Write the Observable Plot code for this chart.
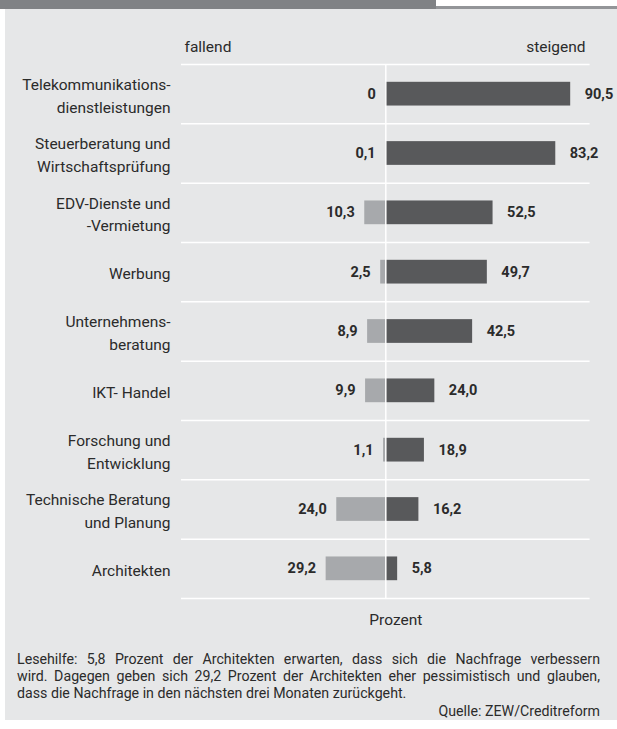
<!DOCTYPE html>
<html>
<head>
<meta charset="utf-8">
<script src="https://cdn.jsdelivr.net/npm/d3@7"></script>
<script src="https://cdn.jsdelivr.net/npm/@observablehq/plot@0.6"></script>
<style>
  html, body { margin: 0; padding: 0; background: #ffffff; }
  #page { position: relative; width: 617px; height: 729px; overflow: hidden;
          font-family: Roboto, "Noto Sans", sans-serif; color: #2b2b2b; }
  #headbar { position: absolute; left: 0; top: 0; width: 436px; height: 9px; background: #808285; }
  #headline { position: absolute; left: 436px; top: 6px; width: 181px; height: 3px; background: #939598; }
  #panel { position: absolute; left: 5px; top: 9px; width: 612px; height: 711px; background: #e6e7e8; }
  #chart { position: absolute; left: 0; top: 9px; }
  #note { position: absolute; left: 17px; top: 651px; width: 583px; font-size: 14.2px; line-height: 17px; }
  #note .j { text-align: justify; text-align-last: justify; white-space: nowrap; }
  #source { position: absolute; right: 17px; top: 703px; font-size: 14.2px; line-height: 17px; }
</style>
</head>
<body>
<div id="page">
  <div id="headbar"></div>
  <div id="headline"></div>
  <div id="panel"></div>
  <div id="chart"></div>
  <div id="note">
    <div class="j">Lesehilfe: 5,8 Prozent der Architekten erwarten, dass sich die Nachfrage verbessern</div>
    <div class="j">wird. Dagegen geben sich 29,2 Prozent der Architekten eher pessimistisch und glauben,</div>
    <div>dass die Nachfrage in den nächsten drei Monaten zurückgeht.</div>
  </div>
  <div id="source">Quelle: ZEW/Creditreform</div>
</div>
<script>
// Branchen (Zeilen von oben nach unten)
const branchen = [
  "Telekommunikations-\ndienstleistungen",
  "Steuerberatung und\nWirtschaftsprüfung",
  "EDV-Dienste und\n-Vermietung",
  "Werbung",
  "Unternehmens-\nberatung",
  "IKT- Handel",
  "Forschung und\nEntwicklung",
  "Technische Beratung\nund Planung",
  "Architekten"
];
// Anteil der Unternehmen mit fallender Nachfrage, in Prozent
const fallend = [0, 0.1, 10.3, 2.5, 8.9, 9.9, 1.1, 24.0, 29.2];
// Anteil der Unternehmen mit steigender Nachfrage, in Prozent
const steigend = [90.5, 83.2, 52.5, 49.7, 42.5, 24.0, 18.9, 16.2, 5.8];

const rows = branchen.map((name, i) => ({name, i, fallend: fallend[i], steigend: steigend[i]}));
const grenzen = d3.range(branchen.length + 1).map(i => i - 0.5);

const de = d3.formatLocale({decimal: ",", thousands: ".", grouping: [3], currency: ["", " €"]});
const f1 = de.format(".1f");
const fmt = v => v === 0 ? "0" : f1(v);

const font = "Roboto, 'Noto Sans', sans-serif";
const ink = "#2b2b2b";

const chart = Plot.plot({
  width: 617,
  height: 620,
  marginLeft: 181,
  marginRight: 27.4,
  marginTop: 55,
  marginBottom: 31,
  x: {domain: [-100, 100], axis: null},
  y: {domain: [-0.5, branchen.length - 0.5], reverse: true, axis: null},
  style: {background: "transparent", fontFamily: font, fontSize: "15.5px", color: ink, overflow: "visible"},
  marks: [
    Plot.ruleY(grenzen, {y: d => d, stroke: "#ffffff", strokeWidth: 1.5}),
    Plot.rectX(rows, {x1: d => -d.fallend, x2: 0, y1: d => d.i - 0.2, y2: d => d.i + 0.2, fill: "#a7a9ac"}),
    Plot.rectX(rows, {x1: 0, x2: d => d.steigend, y1: d => d.i - 0.2, y2: d => d.i + 0.2, fill: "#58595b"}),
    Plot.ruleX([0], {y1: -0.5, y2: branchen.length - 0.5, stroke: "#ffffff", strokeWidth: 1.5}),
    Plot.text(rows, {x: d => d.steigend, y: "i", text: d => fmt(d.steigend), textAnchor: "start", dx: 14,
      fontWeight: "bold", fontSize: 14.5, fill: ink}),
    Plot.text(rows, {x: d => -d.fallend, y: "i", text: d => fmt(d.fallend), textAnchor: "end", dx: -10,
      fontWeight: "bold", fontSize: 14.5, fill: ink}),
    Plot.text(rows, {x: -100, y: "i", text: "name", textAnchor: "end", dx: -11, lineHeight: 1.45, fill: ink}),
    Plot.text(["fallend"], {x: -100, y: -0.5, text: d => d, textAnchor: "start", dx: 3, dy: -17, fill: ink}),
    Plot.text(["steigend"], {x: 100, y: -0.5, text: d => d, textAnchor: "end", dx: -4.6, dy: -17, fill: ink}),
    Plot.text(["Prozent"], {x: 0, y: branchen.length - 0.5, text: d => d, dx: 10, dy: 22, fill: ink})
  ]
});
document.getElementById("chart").appendChild(chart);
</script>
</body>
</html>
